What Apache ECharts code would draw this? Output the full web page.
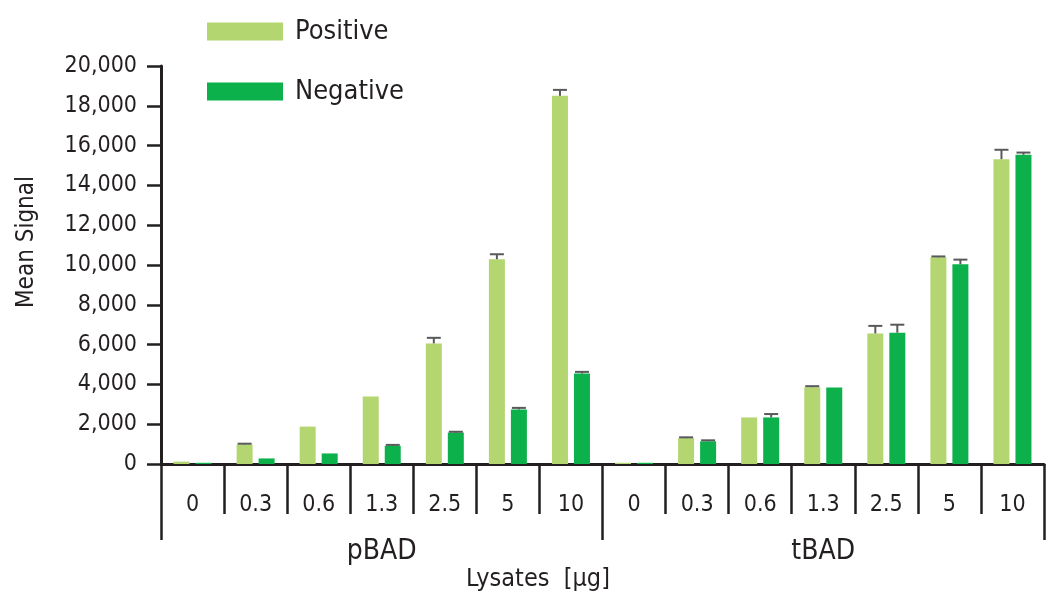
<!DOCTYPE html>
<html>
<head>
<meta charset="utf-8">
<script src="https://cdn.jsdelivr.net/npm/echarts@6/dist/echarts.min.js"></script>
<style>
html,body{margin:0;padding:0;background:#fff;}
#chart{width:1046px;height:598px;}
</style>
</head>
<body>
<div id="chart"></div>
<script>
const categories = ['0','0.3','0.6','1.3','2.5','5','10','0','0.3','0.6','1.3','2.5','5','10'];
const groups = ['pBAD','tBAD'];
const positiveValues = [120, 980, 1880, 3390, 6060, 10290, 18500, 60, 1300, 2340, 3860, 6560, 10390, 15320];
const positiveErrors = [0, 40, 0, 0, 280, 250, 300, 0, 40, 0, 50, 380, 40, 470];
const negativeValues = [60, 280, 530, 910, 1580, 2740, 4550, 60, 1140, 2340, 3850, 6600, 10040, 15540];
const negativeErrors = [0, 0, 0, 50, 40, 80, 80, 0, 50, 170, 0, 400, 230, 110];
const yTicks = {min: 0, max: 20000, interval: 2000};

const FONT = '"Liberation Sans Narrow","DejaVu Sans Condensed","Noto Sans",sans-serif';
const INK = '#231f20';
const BAR_W = 16, BAR_GAP = 6;

function errSeries(values, errors, side, name) {
  return {
    type: 'custom',
    name: name,
    xAxisIndex: 0,
    yAxisIndex: 0,
    z: 5,
    silent: true,
    data: values.map((v, i) => [i, v, errors[i]]),
    renderItem: function (params, api) {
      const i = api.value(0), v = api.value(1), e = api.value(2);
      if (!e) return null;
      const off = side * (BAR_W + BAR_GAP) / 2;
      const p0 = api.coord([i, v]);
      const p1 = api.coord([i, v + e]);
      const x = p0[0] + off;
      const st = {stroke: '#58595b', lineWidth: 2};
      return {
        type: 'group',
        children: [
          {type: 'line', shape: {x1: x, y1: p0[1], x2: x, y2: p1[1]}, style: st},
          {type: 'line', shape: {x1: x - 7, y1: p1[1], x2: x + 7, y2: p1[1]}, style: st}
        ]
      };
    }
  };
}

const chart = echarts.init(document.getElementById('chart'));
chart.setOption({
  animation: false,
  backgroundColor: '#fff',
  textStyle: {fontFamily: FONT, color: INK},
  grid: {left: 161, right: 2, top: 66, bottom: 134, containLabel: false},
  legend: {
    orient: 'vertical',
    left: 207, top: 18, padding: 0,
    itemWidth: 76, itemHeight: 18, itemGap: 33,
    icon: 'rect',
    data: ['Positive', 'Negative'],
    textStyle: {fontFamily: FONT, fontSize: 27, color: INK, padding: [0, 0, 0, 7]}
  },
  xAxis: [
    {
      type: 'category',
      data: categories,
      axisLine: {show: true, lineStyle: {color: INK, width: 3}},
      axisTick: {show: true, interval: 0, length: 50, lineStyle: {color: INK, width: 2.5}},
      axisLabel: {interval: 0, margin: 30, fontSize: 23, color: INK, fontFamily: FONT}
    },
    {
      type: 'category',
      data: groups,
      position: 'bottom',
      axisLine: {show: false},
      axisTick: {show: true, length: 76, lineStyle: {color: INK, width: 2.5}},
      axisLabel: {margin: 74, fontSize: 28, color: INK, fontFamily: FONT}
    }
  ],
  yAxis: {
    type: 'value',
    min: yTicks.min, max: yTicks.max, interval: yTicks.interval,
    splitLine: {show: false},
    axisLine: {show: true, lineStyle: {color: INK, width: 3}},
    axisTick: {show: true, length: 14, lineStyle: {color: INK, width: 2.5}},
    axisLabel: {
      margin: 24, fontSize: 23, color: INK, fontFamily: FONT,
      formatter: v => v.toLocaleString('en-US')
    }
  },
  graphic: [
    {
      type: 'text', x: 27, y: 242, rotation: Math.PI / 2,
      style: {text: 'Mean Signal', font: '24px ' + FONT, fill: INK, align: 'center', verticalAlign: 'middle'}
    },
    {
      type: 'text', x: 538, y: 579,
      style: {text: 'Lysates  [\u00b5g]', font: '25px ' + FONT, fill: INK, align: 'center', verticalAlign: 'middle'}
    }
  ],
  series: [
    {
      name: 'Positive', type: 'bar', xAxisIndex: 0, data: positiveValues,
      barWidth: BAR_W, barGap: (BAR_GAP / BAR_W * 100) + '%',
      itemStyle: {color: '#b4d670'}
    },
    {
      name: 'Negative', type: 'bar', xAxisIndex: 0, data: negativeValues,
      barWidth: BAR_W,
      itemStyle: {color: '#0db14b'}
    },
    errSeries(positiveValues, positiveErrors, -1, 'PositiveErr'),
    errSeries(negativeValues, negativeErrors, 1, 'NegativeErr')
  ]
});
</script>
</body>
</html>
